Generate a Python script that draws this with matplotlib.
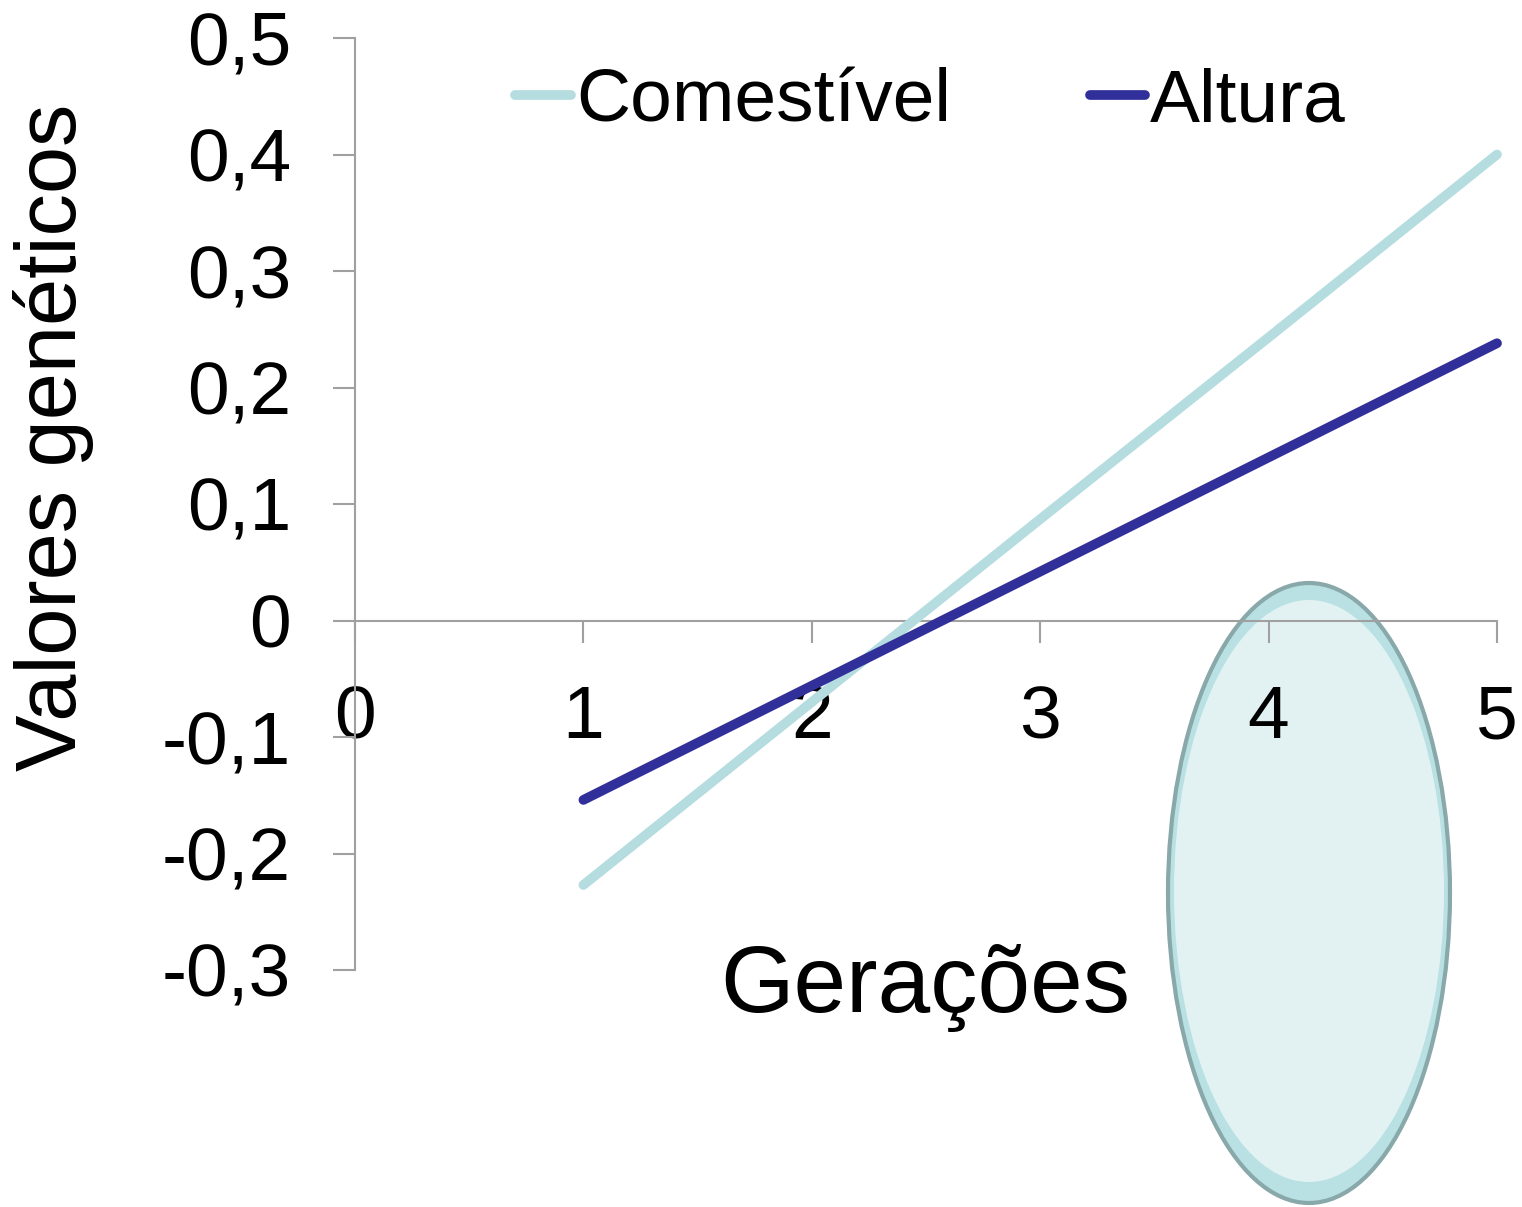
import matplotlib
matplotlib.use("Agg")
import matplotlib.pyplot as plt
from matplotlib.patches import Ellipse

plt.rcParams['font.family'] = ['Liberation Sans', 'DejaVu Sans']

generations = [1, 2, 3, 4, 5]
comestivel = [-0.227, -0.070, 0.087, 0.243, 0.400]
altura = [-0.154, -0.056, 0.042, 0.140, 0.238]
xticks = [0, 1, 2, 3, 4, 5]
yticks = [-0.3, -0.2, -0.1, 0, 0.1, 0.2, 0.3, 0.4, 0.5]
ytick_labels = ['-0,3', '-0,2', '-0,1', '0', '0,1', '0,2', '0,3', '0,4', '0,5']

W, H = 1522, 1207
fig = plt.figure(figsize=(W / 100, H / 100), dpi=100)
ax = fig.add_axes([355 / W, 1 - 970 / H, (1497 - 355) / W, (970 - 38) / H])
ax.patch.set_visible(False)

# decorative ellipse (behind the axes)
outer = Ellipse((1309 / W, 1 - 893 / H), 282 / W, 620 / H, transform=fig.transFigure,
                facecolor='#b9e0e3', edgecolor='#88a8aa', linewidth=3, zorder=-2)
inner = Ellipse((1309 / W, 1 - 891 / H), 270 / W, 582 / H, transform=fig.transFigure,
                facecolor='#e2f2f3', edgecolor='none', zorder=-1)
fig.add_artist(outer)
fig.add_artist(inner)

ax.plot(generations, comestivel, color='#b5dde0', lw=7, solid_capstyle='round',
        label='Comestível', zorder=3, clip_on=False)
ax.plot(generations, altura, color='#31309a', lw=7, solid_capstyle='round',
        label='Altura', zorder=4, clip_on=False)

ax.set_xlim(0, 5)
ax.set_ylim(-0.3, 0.5)
ax.spines['top'].set_visible(False)
ax.spines['right'].set_visible(False)
ax.spines['bottom'].set_position(('data', 0))
for s in ('left', 'bottom'):
    ax.spines[s].set_color('#a0a0a0')
    ax.spines[s].set_linewidth(1.5)

ax.set_xticks(xticks)
ax.set_xticklabels([str(v) for v in xticks])
ax.set_yticks(yticks)
ax.set_yticklabels(ytick_labels)
ax.tick_params(axis='both', direction='out', length=16, width=1.5, color='#a0a0a0',
               labelsize=54, pad=30)

fig.text(54 / W, 1 - 437 / H, 'Valores genéticos', rotation=90, fontsize=61,
         ha='center', va='center')
fig.text(925 / W, 1 - 987 / H, 'Gerações', fontsize=68, ha='center', va='center')

leg = ax.legend(loc='center left', bbox_to_anchor=(515 / W, 1 - 102 / H),
                bbox_transform=fig.transFigure, ncol=2, frameon=False,
                fontsize=54, handlelength=0.74, handletextpad=0.07,
                columnspacing=1.85, borderpad=0, borderaxespad=0)

fig.savefig('out.png', dpi=100)
